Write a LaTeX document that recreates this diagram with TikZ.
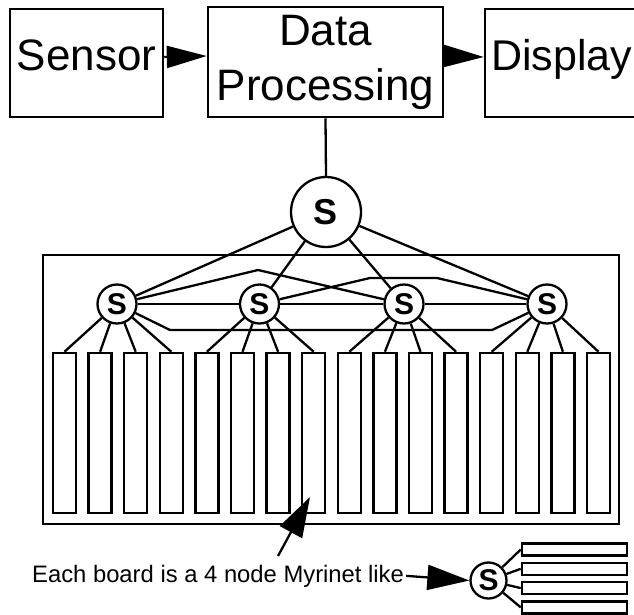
\documentclass[tikz,border=0pt]{standalone}
\usepackage{fontspec}
\setmainfont{Liberation Sans}
\usetikzlibrary{shapes.geometric, arrows.meta, positioning, calc}
\tikzstyle{block} = [rectangle, draw=black, line width=2.5pt, inner sep=0pt, font=\fontsize{44}{55}\selectfont]
\tikzstyle{switch} = [circle, draw=black, line width=2.3pt, fill=white, inner sep=0pt, font=\fontsize{30}{30}\selectfont\bfseries]
\tikzstyle{board} = [rectangle, draw=black, line width=2.5pt, inner sep=0pt]
\tikzstyle{wire} = [line width=2.3pt, black]
\tikzstyle{bigarrow} = [line width=2.3pt, black, -{Triangle[length=40pt, width=22pt]}]

\begin{document}
\begin{tikzpicture}[x=1pt, y=-1pt]
\useasboundingbox (0,0) rectangle (634,614);

% Top chain
\node[block, minimum width=153pt, minimum height=108pt, text height=32pt, text depth=18pt] (sensor) at (86.5,63) {Sensor};
\node[block, minimum width=235pt, minimum height=110pt, align=center] (proc) at (325.5,62) {Data\\Processing};
\node[block, minimum width=153pt, minimum height=108pt, text height=32pt, text depth=18pt, font=\fontsize{43}{55}\selectfont] (display) at (561.5,63) {Display};

\draw[bigarrow] ([yshift=6pt]sensor.east) -- ([yshift=6pt]proc.west);
\draw[bigarrow] ([yshift=6pt]proc.east) -- ([yshift=6pt]display.west);

% Top switch
\node[switch, minimum size=70pt, font=\fontsize{36}{36}\selectfont\bfseries] (top) at (326,212) {S};
\draw[wire] (proc.south) -- (top.north);

% Board cage
\draw[line width=2.5pt] (43,255) rectangle (619,524);

% Boards
\foreach \i in {1,...,16}
  \node[board, minimum width=23pt, minimum height=160pt] (b\i) at ({64.5+(\i-1)*35.6},433) {};

% Board switches
\node[switch, minimum size=39pt] (s1) at (117,304) {S};
\node[switch, minimum size=39pt] (s2) at (259.5,304) {S};
\node[switch, minimum size=39pt] (s3) at (404,304) {S};
\node[switch, minimum size=39pt] (s4) at (547,304) {S};

\foreach \g in {1,...,4}{
  \draw[wire] (top) -- (s\g);
  \foreach \k in {1,...,4}{
    \pgfmathtruncatemacro{\n}{(\g-1)*4+\k}
    \draw[wire] (s\g) -- (b\n.north);
  }
}

% Switch mesh
\coordinate (k13) at (258,270);
\coordinate (k24a) at (370,278);
\coordinate (k24b) at (437,278);
\coordinate (k14a) at (170,330);
\coordinate (k14b) at (492,330);
\draw[wire] (s1) -- (s2);
\draw[wire] (s2) -- (s3);
\draw[wire] (s3) -- (s4);
\draw[wire] (s1) -- (k13) -- (s3);
\draw[wire] (s2) -- (k24a) -- (k24b) -- (s4);
\draw[wire] (s1) -- (k14a) -- (k14b) -- (s4);

% Legend
\node[anchor=base west, inner sep=0pt, font=\fontsize{23.8}{28}\selectfont] (note) at (32,582) {Each board is a 4 node Myrinet like};
\coordinate (tail) at (278,556);
\coordinate (tip) at (310,497);
\draw[bigarrow, -{Triangle[length=40pt, width=25pt]}] (tail) -- (tip);

\node[switch, minimum size=36pt] (mini) at (488.5,580.5) {S};
\draw[bigarrow, -{Triangle[length=42pt, width=25pt]}] ([xshift=2pt]note.east) -- (mini.west);

\foreach \j in {1,...,4}{
  \node[board, minimum width=105pt, minimum height=12pt] (m\j) at (574.5,{549.5+(\j-1)*19.3}) {};
  \draw[wire] (mini) -- (m\j.west);
}
\end{tikzpicture}
\end{document}
